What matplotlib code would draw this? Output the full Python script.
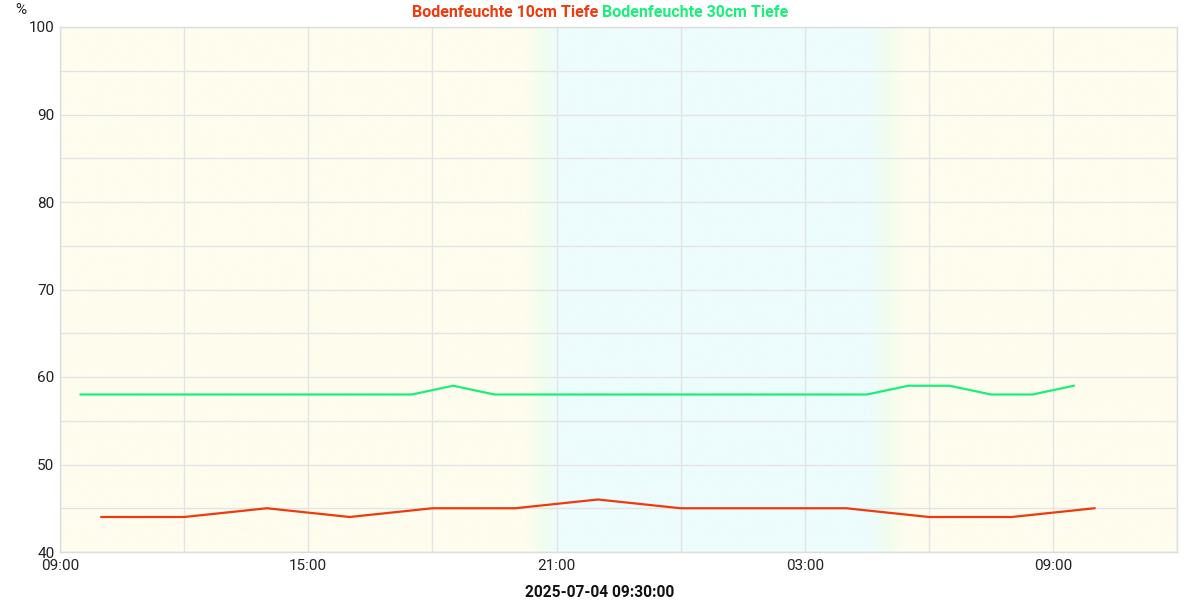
import numpy as np
import pandas as pd
import matplotlib
matplotlib.use("Agg")
import matplotlib.pyplot as plt
import matplotlib.dates as mdates
from matplotlib.colors import to_rgb

plt.rcParams['font.family'] = ['Roboto', 'DejaVu Sans']

# Bodenfeuchte 10cm (alle 2 Stunden)
zeit_10cm = ["2025-07-04 10:00", "2025-07-04 12:00", "2025-07-04 14:00", "2025-07-04 16:00",
             "2025-07-04 18:00", "2025-07-04 20:00", "2025-07-04 22:00", "2025-07-05 00:00",
             "2025-07-05 02:00", "2025-07-05 04:00", "2025-07-05 06:00", "2025-07-05 08:00",
             "2025-07-05 10:00"]
werte_10cm = [44, 44, 45, 44, 45, 45, 46, 45, 45, 45, 44, 44, 45]

# Bodenfeuchte 30cm (stuendlich)
zeit_30cm = ["2025-07-04 09:30", "2025-07-04 10:30", "2025-07-04 11:30", "2025-07-04 12:30",
             "2025-07-04 13:30", "2025-07-04 14:30", "2025-07-04 15:30", "2025-07-04 16:30",
             "2025-07-04 17:30", "2025-07-04 18:30", "2025-07-04 19:30", "2025-07-04 20:30",
             "2025-07-04 21:30", "2025-07-04 22:30", "2025-07-04 23:30", "2025-07-05 00:30",
             "2025-07-05 01:30", "2025-07-05 02:30", "2025-07-05 03:30", "2025-07-05 04:30",
             "2025-07-05 05:30", "2025-07-05 06:30", "2025-07-05 07:30", "2025-07-05 08:30",
             "2025-07-05 09:30"]
werte_30cm = [58, 58, 58, 58, 58, 58, 58, 58, 58, 59, 58, 58, 58, 58, 58, 58,
              58, 58, 58, 58, 59, 59, 58, 58, 59]

# Tag/Nacht Hintergrund (Zeitpunkte der Uebergaenge)
hintergrund_zeit = ["2025-07-04 09:00", "2025-07-04 20:15", "2025-07-04 20:40", "2025-07-04 21:00",
                    "2025-07-05 04:35", "2025-07-05 05:00", "2025-07-05 05:25", "2025-07-05 12:00"]
hintergrund_farbe = ["#fefdee", "#fefdee", "#f2fdee", "#edfcfc",
                     "#edfcfc", "#f2fdee", "#fefdee", "#fefdee"]

rot = "#ee3a0c"
gruen = "#18f07a"

x_start = pd.Timestamp("2025-07-04 09:00")
x_ende = pd.Timestamp("2025-07-05 12:00")

fig = plt.figure(figsize=(12, 6), dpi=100)
ax = fig.add_axes([0.05, 0.08, 0.931, 0.875])

# Hintergrund als Farbverlauf
t_bg = mdates.date2num(pd.to_datetime(hintergrund_zeit))
farben = np.array([to_rgb(c) for c in hintergrund_farbe])
xs = np.linspace(mdates.date2num(x_start), mdates.date2num(x_ende), 1200)
img = np.stack([np.interp(xs, t_bg, farben[:, k]) for k in range(3)], axis=-1)[None, :, :]
ax.imshow(img, extent=[xs[0], xs[-1], 40, 100], aspect='auto', zorder=0, interpolation='bilinear')

ax.plot(pd.to_datetime(zeit_10cm), werte_10cm, color=rot, lw=1.6, zorder=3)
ax.plot(pd.to_datetime(zeit_30cm), werte_30cm, color=gruen, lw=1.6, zorder=3)

ax.set_xlim(x_start, x_ende)
ax.set_ylim(40, 100)
ax.set_yticks(range(40, 101, 10))
ax.set_yticks(range(40, 101, 5), minor=True)
ax.xaxis.set_major_locator(mdates.HourLocator(byhour=[3, 9, 15, 21]))
ax.xaxis.set_minor_locator(mdates.HourLocator(byhour=[0, 6, 12, 18]))
ax.xaxis.set_major_formatter(mdates.DateFormatter("%H:%M"))
ax.grid(True, which='both', color="#e4e4e4", lw=1, zorder=1)
for gl in ax.get_xgridlines() + ax.get_ygridlines():
    gl.set_zorder(1)
ax.tick_params(which='both', length=0, labelsize=11, colors="#222222", pad=4)
ax.tick_params(axis='x', pad=5)
for s in ax.spines.values():
    s.set_color("#dddddd")
    s.set_linewidth(1)

fig.text(0.5, 0.012, "2025-07-04 09:30:00", fontsize=11.2, fontweight='bold',
         ha='center', va='center', color="#111111")
fig.text(0.0125, 0.983, "%", fontsize=11, ha='left', va='center', color="#222222")
fig.text(0.4985, 0.979, "Bodenfeuchte 10cm Tiefe", color=rot, fontsize=11.5,
         fontweight='bold', ha='right', va='center')
fig.text(0.5015, 0.979, "Bodenfeuchte 30cm Tiefe", color=gruen, fontsize=11.5,
         fontweight='bold', ha='left', va='center')

fig.savefig("out.png", dpi=100)
